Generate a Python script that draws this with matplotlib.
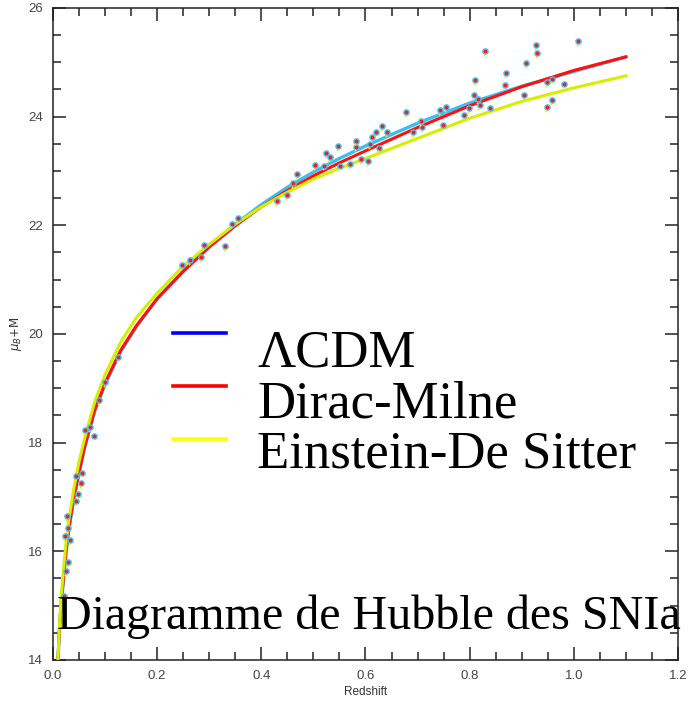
import numpy as np
import matplotlib
matplotlib.use('Agg')
from matplotlib import pyplot as plt
from matplotlib.ticker import MultipleLocator

# model curves (redshift, mu_B+M)
z_curve = [0.0095, 0.012, 0.015, 0.02, 0.025, 0.03, 0.04, 0.05, 0.06, 0.08, 0.10, 0.13,
           0.16, 0.20, 0.25, 0.30, 0.35, 0.40, 0.45, 0.50, 0.55, 0.60, 0.70, 0.80, 0.90, 1.00, 1.10]
mu_lcdm = [13.97, 14.47, 14.92, 15.47, 15.97, 16.37, 16.97, 17.42, 17.87, 18.57, 19.07, 19.67,
           20.13, 20.65, 21.16, 21.61, 22.02, 22.38, 22.70, 22.98, 23.23, 23.46, 23.88, 24.25,
           24.56, 24.83, 25.10]
mu_milne = [14.0, 14.5, 14.95, 15.5, 16.0, 16.4, 17.0, 17.45, 17.9, 18.6, 19.1, 19.7,
            20.15, 20.65, 21.15, 21.6, 21.99, 22.34, 22.64, 22.91, 23.15, 23.37, 23.8, 24.2,
            24.55, 24.85, 25.1]
mu_eds = [14.0, 14.55, 15.05, 15.65, 16.15, 16.55, 17.15, 17.65, 18.05, 18.75, 19.25, 19.85,
          20.3, 20.75, 21.25, 21.65, 22.02, 22.34, 22.61, 22.85, 23.05, 23.23, 23.6, 23.97,
          24.28, 24.53, 24.75]

# supernovae
z_sn = [0.829, 0.927, 0.929, 1.008, 0.909, 0.869, 0.810, 0.867, 0.809, 0.816, 0.819, 0.799,
        0.755, 0.743, 0.790, 0.839, 0.749, 0.904, 0.949, 0.959, 0.982, 0.948, 0.959,
        0.678, 0.707, 0.692, 0.709, 0.632, 0.620, 0.642, 0.613, 0.581, 0.581, 0.609, 0.547,
        0.525, 0.531, 0.626, 0.591, 0.604, 0.570, 0.552, 0.504, 0.520, 0.469, 0.461, 0.449,
        0.430, 0.356, 0.344, 0.331, 0.290, 0.284, 0.263, 0.247,
        0.125, 0.100, 0.089, 0.061, 0.079, 0.071, 0.045, 0.054, 0.049, 0.055, 0.044,
        0.027, 0.029, 0.033, 0.024, 0.029, 0.025, 0.021]
mu_sn = [25.21, 25.32, 25.17, 25.39, 24.99, 24.80, 24.67, 24.58, 24.39, 24.33, 24.21, 24.15,
         24.18, 24.12, 24.03, 24.15, 23.85, 24.39, 24.63, 24.70, 24.61, 24.17, 24.30,
         24.09, 23.92, 23.72, 23.81, 23.83, 23.72, 23.71, 23.63, 23.56, 23.45, 23.49, 23.46,
         23.33, 23.26, 23.43, 23.22, 23.18, 23.13, 23.10, 23.11, 23.10, 22.94, 22.78, 22.55,
         22.44, 22.13, 22.03, 21.61, 21.64, 21.41, 21.36, 21.27,
         19.57, 19.11, 18.79, 18.23, 18.13, 18.29, 17.38, 17.26, 17.05, 17.45, 16.92,
         16.65, 16.43, 16.20, 16.28, 15.80, 15.63, 15.17]

labels = ['ΛCDM', 'Dirac-Milne', 'Einstein-De Sitter']
legend_colors = ['#0000ff', '#ff0000', '#ffff00']

fig = plt.figure(figsize=(6.97, 7.06), dpi=100)
ax = fig.add_axes([0.0760, 0.0652, 0.8967, 0.9235])

ax.plot(z_curve, mu_lcdm, color='#3ebdf0', lw=2.4, zorder=2)
ax.plot(z_curve, mu_milne, color='#ff1010', lw=2.2, zorder=3)
ax.plot(z_curve, mu_eds, color='#d6ef00', lw=2.2, zorder=3)

ax.plot(z_sn, mu_sn, 'o', color='#45c3f2', ms=4.8, mec='none', zorder=4)
ax.plot(z_sn, mu_sn, 'o', color='#ff1a1a', ms=2.7, mec='none', zorder=5)
ax.plot(np.array(z_sn) - 0.002, np.array(mu_sn) - 0.07, 'o', color='#e6f000', ms=1.4,
        mec='none', zorder=5)

ax.set_xlim(0, 1.2)
ax.set_ylim(14, 26)
ax.xaxis.set_major_locator(MultipleLocator(0.2))
ax.xaxis.set_minor_locator(MultipleLocator(0.05))
ax.yaxis.set_major_locator(MultipleLocator(2))
ax.yaxis.set_minor_locator(MultipleLocator(0.5))
ax.xaxis.set_major_formatter(matplotlib.ticker.FormatStrFormatter('%.1f'))
ax.tick_params(which='both', direction='in', top=True, right=True, color='#222222',
               width=1.1, labelsize=9.5, labelcolor='#444444', pad=7)
ax.tick_params(which='major', length=9.5)
ax.tick_params(which='minor', length=5.5)
for lab in ax.get_xticklabels() + ax.get_yticklabels():
    lab.set_family('Liberation Sans')
for s in ax.spines.values():
    s.set_linewidth(1.1)
    s.set_color('#222222')

ax.set_xlabel('Redshift', fontsize=8.5, family='Liberation Sans', color='#333333', labelpad=3)
ax.set_ylabel(r'$\mu_B$+M', fontsize=8.5, color='#333333', labelpad=3)

# legend drawn by hand
for i, (lab, col) in enumerate(zip(labels, legend_colors)):
    y_line = 1 - (333 + 53 * i) / 706
    y_txt = 1 - (366 + 51 * i) / 706
    fig.add_artist(plt.Line2D([173 / 697, 226 / 697], [y_line, y_line], color=col, lw=2.6))
    fig.text(257 / 697, y_txt, lab, family='Liberation Serif', fontsize=38,
             va='baseline', ha='left')

fig.text(57 / 697, 1 - 629 / 706, 'Diagramme de Hubble des SNIa', family='Liberation Serif',
         fontsize=34.6, va='baseline', ha='left')

fig.savefig('out.png', dpi=100)
